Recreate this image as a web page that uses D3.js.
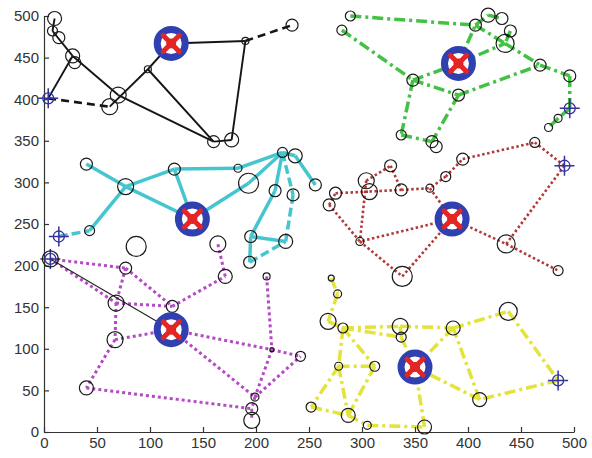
<!DOCTYPE html>
<html>
<head>
<meta charset="utf-8">
<script src="https://cdn.jsdelivr.net/npm/d3@7"></script>
<style>
  body { margin: 0; background: #fff; }
  .axis text { font: 15px "Liberation Sans", Arial, sans-serif; fill: #333; }
  .axis path, .axis line { stroke: #333; stroke-width: 1.2; }
</style>
</head>
<body>
<div id="chart"></div>
<script>
// ---- data (x, y, node energy) ----
const xTicks = [0, 50, 100, 150, 200, 250, 300, 350, 400, 450, 500];
const yTicks = [0, 50, 100, 150, 200, 250, 300, 350, 400, 450, 500];

// black cluster
const blackNodes = [[10,497,7],[8,482,5],[14,474,6],[27,452,7],[29,444,6],[62,391,8],[70,405,8],
                    [98,436,3.5],[190,470,3.5],[234,489,6],[160,349,6],[177,351,7]];
const blackHead = [120,467], blackSink = [4,401];
const blackLinks = [[0,1],[1,3],[3,6],[6,10],[3,"s"],[7,"h"],[5,7],[7,10],[10,11],[11,8],["h",8]];
const blackDashed = [["s",5],[8,9]];

// green cluster
const greenNodes = [[289,500,5],[281,483,5],[407,489,6],[419,501,7],[432,497,6],[440,482,6],[435,467,9],
                    [468,441,6],[496,428,6],[485,377,4],[476,366,4],[348,423,6],[391,405,6],[337,357,5],
                    [366,349,6],[370,343,6]];
const greenHead = [391,443], greenSink = [496,389];
const greenLinks = [[0,2],[1,11],[11,"h"],[11,12],[12,7],["h",2],["h",6],[2,6],[6,7],[7,8],[2,3],[3,4],
                    [5,6],[8,"s"],["s",9],[9,10],[11,13],[12,14],[13,14]];

// cyan cluster
const cyanNodes = [[40,322,6],[77,295,8],[123,316,6],[183,317,4],[193,299,10],[225,336,5],[237,332,7],
                   [218,290,6],[235,285,6],[256,297,6],[43,242,5],[195,235,6],[228,229,7],[194,204,6]];
const cyanHead = [140,256], cyanSink = [14,235];
const cyanLinks = [[10,1],[0,1],[1,2],[1,"h"],[2,"h"],[2,3],["h",4],[3,5],[4,5],[5,6],[6,9],[7,11],
                   [11,12],[11,13],[5,7]];
const cyanDashed = [["s",10],[8,12],[13,12],[5,8]];

// red cluster
const redNodes = [[463,348,5],[395,328,6],[379,307,5],[364,293,4],[337,291,6],[327,320,6],[304,302,8],
                  [307,289,8],[275,287,6],[269,273,6],[298,229,4],[436,226,9],[338,187,10],[485,194,5]];
const redHead = [385,256], redSink = [491,320];
const redLinks = [[9,8],[8,7],[7,4],[4,3],[6,5],[5,4],[3,"h"],[2,1],[1,0],[0,"s"],["s",11],["h",11],
                  [11,13],["h",10],[9,10],[10,12],[6,10],[12,"h"],[2,3]];

// magenta cluster
const magNodes = [[87,223,10],[77,197,6],[164,226,8],[171,187,7],[210,187,3.5],[68,155,8],[121,151,6],
                  [67,111,8],[40,53,7],[242,91,5],[215,99,2],[199,42,4],[196,28,6],[196,14,8]];
const magHead = [120,123], magSink = [6,208];
const magLinks = [["s",1],["s",5],[1,6],[1,5],[5,6],[5,7],[7,"h"],[7,8],[8,12],["h",11],["h",10],[10,9],
                  [4,10],[10,11],[11,9],[6,3],[3,2],[11,12],[12,13]];

// yellow cluster
const yelNodes = [[271,185,3],[277,166,4],[268,133,8],[282,125,5],[336,127,8],[337,114,5],[386,125,7],
                  [438,145,9],[278,79,4],[312,79,5],[411,39,7],[252,30,5],[287,20,7],[305,8,4],[359,6,7]];
const yelHead = [350,78], yelSink = [485,62];
const yelLinks = [[0,1],[1,2],[2,3],[3,4],[4,6],[6,7],[7,"s"],["s",10],[10,"h"],[10,6],[3,9],[3,8],[8,9],
                  [8,11],[8,12],[11,12],[12,13],[13,14],[14,"h"],[9,12],[6,"h"],[5,"h"],[3,5],[4,5]];

// ---- drawing ----
const width = 592, height = 458;
const x = d3.scaleLinear([0, 500], [44, 574]);
const y = d3.scaleLinear([0, 500], [432, 16]);
const r = d3.scaleLinear([0, 10], [0, 10]);

const svg = d3.select("#chart").append("svg")
    .attr("width", width).attr("height", height)
    .style("background", "#fff");

const clusters = [
  {nodes: blackNodes, head: blackHead, sink: blackSink, links: blackLinks, color: "#151515", width: 1.9, dash: null},
  {nodes: blackNodes, head: blackHead, sink: blackSink, links: blackDashed, color: "#151515", width: 2.6, dash: "8,5"},
  {nodes: greenNodes, head: greenHead, sink: greenSink, links: greenLinks, color: "#44c144", width: 3.5, dash: "11,4,3,4"},
  {nodes: cyanNodes, head: cyanHead, sink: cyanSink, links: cyanLinks, color: "#45c6cf", width: 3.5, dash: null},
  {nodes: cyanNodes, head: cyanHead, sink: cyanSink, links: cyanDashed, color: "#45c6cf", width: 3.5, dash: "9,4"},
  {nodes: redNodes, head: redHead, sink: redSink, links: redLinks, color: "#b03a3a", width: 2.6, dash: "2.5,2.5"},
  {nodes: magNodes, head: magHead, sink: magSink, links: magLinks, color: "#b44ac4", width: 3, dash: "3,3"},
  {nodes: yelNodes, head: yelHead, sink: yelSink, links: yelLinks, color: "#e3e33c", width: 3.5, dash: "11,4,3,4"}
];

function pt(c, k) {
  return k === "h" ? c.head : k === "s" ? c.sink : c.nodes[k];
}

// links
clusters.forEach(c => {
  svg.append("g").selectAll("line")
    .data(c.links)
    .join("line")
      .attr("x1", d => x(pt(c, d[0])[0]))
      .attr("y1", d => y(pt(c, d[0])[1]))
      .attr("x2", d => x(pt(c, d[1])[0]))
      .attr("y2", d => y(pt(c, d[1])[1]))
      .attr("stroke", c.color)
      .attr("stroke-width", c.width)
      .attr("stroke-dasharray", c.dash);
});

// thin black line from magenta sink to its head
svg.append("line")
    .attr("x1", x(magSink[0])).attr("y1", y(magSink[1]))
    .attr("x2", x(magHead[0])).attr("y2", y(magHead[1]))
    .attr("stroke", "#222").attr("stroke-width", 1.1);

// axes
svg.append("g").attr("class", "axis")
    .attr("transform", "translate(0,432)")
    .call(d3.axisBottom(x).tickValues(xTicks).tickSizeInner(-5).tickSizeOuter(0).tickPadding(5));
svg.append("g").attr("class", "axis")
    .attr("transform", "translate(44,0)")
    .call(d3.axisLeft(y).tickValues(yTicks).tickSizeInner(-5).tickSizeOuter(0).tickPadding(5));

// nodes
const allNodes = [blackNodes, greenNodes, cyanNodes, redNodes, magNodes, yelNodes].flat();
svg.append("g").selectAll("circle")
  .data(allNodes)
  .join("circle")
    .attr("cx", d => x(d[0]))
    .attr("cy", d => y(d[1]))
    .attr("r", d => r(d[2]))
    .attr("fill", "none")
    .attr("stroke", "#1a1a1a")
    .attr("stroke-width", 1.2);

// sinks
const sinks = [blackSink, greenSink, cyanSink, redSink, magSink, yelSink];
const sg = svg.append("g").selectAll("g")
  .data(sinks)
  .join("g")
    .attr("transform", d => `translate(${x(d[0])},${y(d[1])})`);
sg.append("circle").attr("r", 5.5).attr("fill", "none").attr("stroke", "#33339a").attr("stroke-width", 1.3);
sg.append("path").attr("d", "M-10,0H10M0,-10V10").attr("stroke", "#33339a").attr("stroke-width", 1.5);
svg.append("circle")
    .attr("cx", x(magSink[0])).attr("cy", y(magSink[1])).attr("r", 8)
    .attr("fill", "none").attr("stroke", "#1a1a1a").attr("stroke-width", 1.2);

// cluster heads
const heads = [blackHead, greenHead, cyanHead, redHead, magHead, yelHead];
const hg = svg.append("g").selectAll("g")
  .data(heads)
  .join("g")
    .attr("transform", d => `translate(${x(d[0])},${y(d[1])})`);
hg.append("circle").attr("r", 14).attr("fill", "#fff").attr("stroke", "#3040b0").attr("stroke-width", 7);
hg.append("circle").attr("r", 5).attr("fill", "#d82020");
hg.append("path").attr("d", "M-8,-8L8,8M-8,8L8,-8").attr("stroke", "#e52424").attr("stroke-width", 5)
    .attr("stroke-linecap", "round");
</script>
</body>
</html>
